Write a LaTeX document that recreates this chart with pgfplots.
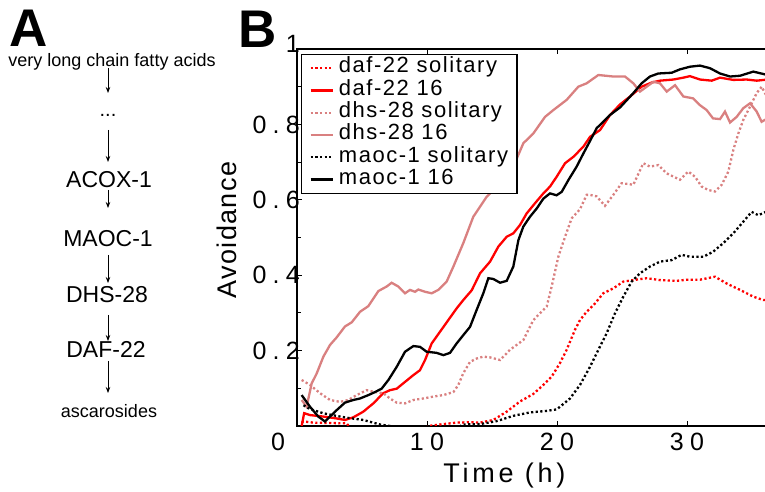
\documentclass[border=0pt]{standalone}
\usepackage{fontspec}
\setmainfont{Liberation Sans}
\newfontfamily\spacedfont[LetterSpace=25]{Liberation Sans}
\newfontfamily\xlabfont[LetterSpace=14]{Liberation Sans}
\newfontfamily\legfont[LetterSpace=5]{Liberation Sans}
\newfontfamily\legtfont[LetterSpace=7]{Liberation Sans}
\usepackage{pgfplots}
\pgfplotsset{compat=1.18}
\usetikzlibrary{arrows.meta}
\definecolor{pinkred}{RGB}{217,128,128}
\begin{document}
\begin{tikzpicture}
\useasboundingbox (0,0) rectangle (765pt,492pt);
\clip (0,0) rectangle (765pt,492pt);
% ---------- Panel A ----------
\node[anchor=base west, inner sep=0, font=\bfseries\fontsize{53}{53}\selectfont] at (9pt,445pt) {A};
\node[anchor=base, inner sep=0, font=\fontsize{18}{18}\selectfont] at (112pt,425pt) {very long chain fatty acids};
\node[anchor=base, inner sep=0, font=\fontsize{20}{20}\selectfont] at (108pt,375pt) {...};
\node[anchor=base, inner sep=0, font=\fontsize{23}{23}\selectfont] at (109pt,304pt) {ACOX-1};
\node[anchor=base, inner sep=0, font=\fontsize{23}{23}\selectfont] at (108pt,245pt) {MAOC-1};
\node[anchor=base, inner sep=0, font=\fontsize{23}{23}\selectfont] at (107pt,189pt) {DHS-28};
\node[anchor=base, inner sep=0, font=\fontsize{23}{23}\selectfont] at (106pt,134pt) {DAF-22};
\node[anchor=base, inner sep=0, font=\fontsize{18}{18}\selectfont] at (109pt,74pt) {ascarosides};
\begin{scope}[line width=0.8pt, -{Stealth[length=6pt,width=4.5pt]}]
\draw (108pt,424pt) -- (108pt,399pt);
\draw (108pt,362pt) -- (108pt,330pt);
\draw (108pt,302pt) -- (108pt,284pt);
\draw (108pt,237pt) -- (108pt,209pt);
\draw (108pt,177pt) -- (108pt,151pt);
\draw (108pt,131pt) -- (108pt,99pt);
\end{scope}
% ---------- Panel B ----------
\node[anchor=base west, inner sep=0, font=\bfseries\fontsize{53}{53}\selectfont] at (238pt,444pt) {B};
\begin{axis}[
  at={(297pt,66pt)}, anchor=south west,
  scale only axis, width=474.5pt, height=377pt,
  xmin=0, xmax=36.5, ymin=0, ymax=1,
  axis line style={line width=1.2pt},
  tick align=inside,
  major tick length=5pt, minor tick length=4pt,
  tick style={line width=0.9pt, black},
  xtick={10,20,30},
  extra x ticks={0}, extra x tick labels={0},
  extra x tick style={xticklabel style={xshift=-19pt}},
  ytick={0.2,0.4,0.6,0.8},
  extra y ticks={1}, extra y tick labels={1},
  extra y tick style={yticklabel style={yshift=5pt}},
  minor ytick={0.1,0.3,0.5,0.7,0.9},
  /pgf/number format/assume math mode=true,
  ticklabel style={font=\spacedfont\fontsize{25}{25}\selectfont},
  xticklabel style={inner sep=0pt, anchor=north, yshift=-7pt},
  yticklabel style={inner sep=0pt, anchor=east, xshift=3pt},
  xlabel={Time (h)},
  xlabel style={font=\xlabfont\fontsize{27}{27}\selectfont, at={(axis description cs:0.437,-0.151)}, anchor=base, inner sep=0pt},
  ylabel={Avoidance},
  ylabel style={font=\legfont\fontsize{27}{27}\selectfont, at={(axis description cs:-0.1475,0.52)}, anchor=center, inner sep=0pt},
  legend style={at={(axis description cs:0.0084,0.987)}, anchor=north west,
    draw=black, line width=1.2pt, fill=white, inner xsep=8pt, inner ysep=2.5pt,
    font=\legtfont\fontsize{22}{22}\selectfont, cells={anchor=west},
    nodes={inner sep=1pt, text height=15pt, text depth=5.3pt}, column sep=4pt},
  legend image code/.code={\draw[#1] (0pt,0pt) -- (22pt,0pt);},
]
% daf-22 solitary
\addplot[red, line width=2.3pt, dash pattern=on 2.2pt off 2.4pt] coordinates {
(0.36,0.010) (0.5,0.012) (1.26,0.009) (2.5,0.008) (3.82,0.007) (4.2,-0.01) (9.8,-0.01)
(10.1,0.0) (11.0,0.004) (12.28,0.009) (13.3,0.010) (14.08,0.009) (15.1,0.016) (16.13,0.038)
(17.15,0.065) (18.18,0.085) (18.95,0.109) (19.59,0.131) (20.23,0.167) (20.74,0.202) (21.38,0.255)
(21.77,0.281) (22.28,0.303) (22.92,0.325) (23.56,0.352) (24.33,0.365) (25.1,0.383) (25.87,0.387)
(26.9,0.392) (27.92,0.387) (29.21,0.385) (29.97,0.388) (31.0,0.388) (32.15,0.396) (33.05,0.378)
(34.08,0.361) (35.1,0.343) (35.87,0.334) (36.2,0.334)};
\addlegendentry{daf-22 solitary}
% daf-22 16
\addplot[red, line width=2.3pt] coordinates {
(0.36,0.0) (0.55,0.034) (1.0,0.029) (2.03,0.025) (3.05,0.020) (3.69,0.016) (4.33,0.023)
(5.1,0.038) (5.87,0.060) (6.64,0.087) (7.15,0.095) (7.67,0.099) (8.31,0.117) (8.95,0.135)
(9.46,0.148) (9.85,0.175) (10.36,0.219) (11.0,0.250) (11.64,0.281) (12.28,0.312) (12.79,0.334)
(13.44,0.360) (14.08,0.405) (14.85,0.436) (15.49,0.476) (16.13,0.502) (16.64,0.511) (17.15,0.533)
(17.67,0.564) (18.31,0.591) (18.95,0.617) (19.46,0.635) (19.97,0.661) (20.62,0.697) (21.26,0.714)
(22.03,0.741) (22.54,0.767) (23.31,0.785) (24.08,0.825) (24.85,0.853) (25.62,0.874) (26.51,0.900)
(27.28,0.911) (27.92,0.916) (28.95,0.919) (29.72,0.924) (30.23,0.928) (31.0,0.919) (31.9,0.916)
(32.54,0.924) (33.56,0.918) (34.59,0.919) (35.36,0.916) (36.2,0.919)};
\addlegendentry{daf-22 16}
% dhs-28 solitary
\addplot[pinkred, line width=2.3pt, dash pattern=on 2.2pt off 2.4pt] coordinates {
(0.36,0.122) (1.0,0.109) (1.77,0.087) (2.54,0.069) (3.31,0.064) (3.95,0.069) (4.59,0.082)
(5.36,0.095) (6.0,0.090) (6.64,0.087) (7.15,0.073) (7.67,0.062) (8.31,0.060) (8.95,0.069)
(9.72,0.073) (10.49,0.078) (11.26,0.082) (12.03,0.090) (12.41,0.109) (12.79,0.140) (13.31,0.170)
(13.82,0.179) (14.33,0.184) (14.85,0.182) (15.62,0.175) (16.38,0.202) (17.41,0.228) (18.18,0.281)
(19.21,0.317) (19.59,0.370) (20.1,0.449) (20.62,0.502) (21.13,0.551) (21.77,0.575) (22.28,0.613)
(22.54,0.613) (23.05,0.609) (23.69,0.584) (24.33,0.613) (24.97,0.644) (25.87,0.640) (26.64,0.697)
(27.15,0.688) (27.79,0.692) (28.44,0.670) (29.46,0.653) (30.1,0.675) (30.62,0.661) (31.13,0.635)
(31.64,0.626) (32.15,0.622) (32.67,0.640) (33.18,0.675) (33.56,0.732) (33.95,0.776) (34.33,0.812)
(34.85,0.847) (35.36,0.883) (35.74,0.900) (36.2,0.870)};
\addlegendentry{dhs-28 solitary}
% dhs-28 16
\addplot[pinkred, line width=2.3pt] coordinates {
(0.36,0.069) (0.74,0.051) (1.13,0.113) (1.51,0.139) (2.03,0.184) (2.54,0.215) (3.05,0.235)
(3.69,0.264) (4.21,0.275) (4.85,0.303) (5.49,0.318) (6.26,0.358) (6.9,0.370) (7.28,0.380)
(7.79,0.370) (8.31,0.352) (8.69,0.361) (9.08,0.356) (9.33,0.362) (9.85,0.356) (10.36,0.352)
(10.87,0.361) (11.51,0.383) (12.03,0.423) (12.79,0.485) (13.56,0.555) (14.59,0.608) (15.62,0.644)
(16.64,0.688) (17.41,0.750) (18.18,0.776) (19.08,0.820) (19.72,0.838) (20.74,0.865) (21.64,0.900)
(22.28,0.909) (23.18,0.931) (24.33,0.927) (25.23,0.927) (25.87,0.909) (26.38,0.887) (26.9,0.900)
(27.41,0.913) (27.92,0.909) (28.44,0.887) (29.08,0.904) (29.72,0.874) (30.48,0.869) (31.0,0.851)
(31.51,0.838) (32.0,0.816) (32.54,0.814) (32.92,0.834) (33.31,0.805) (33.82,0.820) (34.33,0.843)
(34.85,0.856) (35.36,0.834) (35.74,0.807) (36.2,0.816)};
\addlegendentry{dhs-28 16}
% maoc-1 solitary
\addplot[black, line width=2.3pt, dash pattern=on 2.2pt off 2.4pt] coordinates {
(0.5,0.055) (1.0,0.045) (2.0,0.034) (3.0,0.027) (3.82,0.022) (5.1,0.016) (6.38,0.004)
(7.15,0.0) (7.5,-0.01) (12.0,-0.01) (12.8,0.004) (14.08,0.005) (15.36,0.013) (16.64,0.027)
(17.92,0.036) (19.2,0.040) (19.97,0.044) (20.23,0.051) (21.0,0.073) (21.77,0.109) (22.54,0.157)
(23.18,0.202) (23.82,0.246) (24.46,0.299) (25.1,0.343) (25.74,0.383) (26.38,0.405) (27.15,0.423)
(27.92,0.436) (28.82,0.440) (29.59,0.454) (30.23,0.449) (31.26,0.449) (32.0,0.462) (32.79,0.485)
(33.56,0.511) (34.33,0.542) (34.97,0.568) (35.49,0.559) (35.87,0.565) (36.2,0.570)};
\addlegendentry{maoc-1 solitary}
% maoc-1 16
\addplot[black, line width=2.3pt] coordinates {
(0.36,0.082) (1.0,0.051) (1.64,0.025) (2.15,0.012) (2.54,0.025) (3.05,0.042) (3.69,0.062)
(4.33,0.069) (4.85,0.073) (5.49,0.082) (6.0,0.090) (6.51,0.099) (7.03,0.122) (7.67,0.157)
(8.31,0.197) (8.95,0.212) (9.46,0.210) (9.97,0.197) (10.74,0.194) (11.26,0.188) (11.77,0.194)
(12.28,0.219) (12.79,0.241) (13.31,0.263) (13.82,0.308) (14.33,0.352) (14.72,0.392) (15.1,0.390)
(15.62,0.380) (16.13,0.385) (16.64,0.423) (17.03,0.493) (17.41,0.529) (17.92,0.555) (18.44,0.577)
(18.95,0.603) (19.46,0.617) (19.97,0.612) (20.36,0.621) (20.87,0.652) (21.51,0.688) (22.03,0.723)
(22.54,0.756) (23.05,0.790) (23.44,0.803) (24.08,0.825) (24.85,0.845) (25.87,0.883) (26.51,0.909)
(27.15,0.927) (27.79,0.935) (28.82,0.937) (29.46,0.946) (30.23,0.953) (31.0,0.956) (31.77,0.949)
(32.54,0.935) (33.31,0.927) (34.08,0.929) (35.1,0.940) (36.2,0.931)};
\addlegendentry{maoc-1 16}
\end{axis}
\end{tikzpicture}
\end{document}
